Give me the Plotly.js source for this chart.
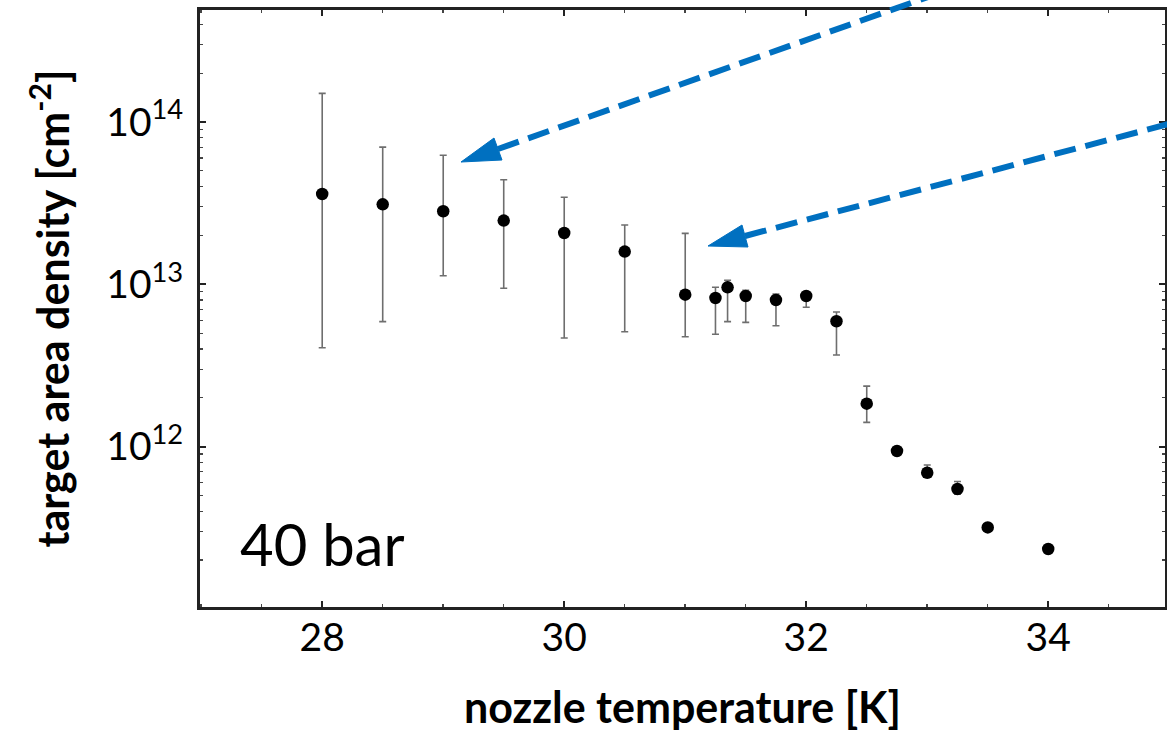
<!DOCTYPE html>
<html>
<head>
<meta charset="utf-8">
<script src="https://cdn.plot.ly/plotly-3.0.1.min.js"></script>
<style>
html,body{margin:0;padding:0;background:#fff;}
#chart{width:1167px;height:732px;}
</style>
</head>
<body>
<div id="chart"></div>
<script>
// nozzle temperature [K]
const temps = [28, 28.5, 29, 29.5, 30, 30.5, 31, 31.25, 31.35, 31.5, 31.75, 32, 32.25, 32.5, 32.75, 33, 33.25, 33.5, 34];
// target area density [cm^-2]
const density = [3.6e13, 3.11e13, 2.82e13, 2.47e13, 2.07e13, 1.59e13, 8.63e12, 8.24e12, 9.58e12, 8.47e12, 8.0e12, 8.47e12, 5.92e12, 1.84e12, 9.4e11, 6.9e11, 5.48e11, 3.18e11, 2.34e11];
// upper and lower ends of error bars
const upperBound = [1.50e14, 7.0e13, 6.24e13, 4.41e13, 3.44e13, 2.32e13, 2.06e13, 9.6e12, 1.06e13, 9.2e12, 8.7e12, 9.0e12, 6.75e12, 2.36e12, 9.4e11, 7.7e11, 6.1e11, 3.18e11, 2.34e11];
const lowerBound = [4.07e12, 5.89e12, 1.13e13, 9.45e12, 4.67e12, 5.1e12, 4.75e12, 4.92e12, 5.89e12, 5.83e12, 5.56e12, 7.22e12, 3.67e12, 1.41e12, 9.4e11, 6.5e11, 5.1e11, 3.18e11, 2.34e11];
const xTickVals = [28, 30, 32, 34];
const yTickVals = [1e12, 1e13, 1e14];
const yTickText = ['10<sup>12</sup>', '10<sup>13</sup>', '10<sup>14</sup>'];
const labelText = "40 bar";

const errPlus = density.map((v, i) => upperBound[i] - v);
const errMinus = density.map((v, i) => v - lowerBound[i]);

const FONT = "Lato, 'Liberation Sans', sans-serif";
const W = 1167, H = 732;
const M = {l: 200, r: 2, t: 10, b: 125};
const PW = W - M.l - M.r, PH = H - M.t - M.b;
// convert page pixels to paper fractions for decorative arrows
const px = x => (x - M.l) / PW;
const py = y => (H - M.b - y) / PH;

function arrow(tip, b1, b2, tail) {
  const bm = [(b1[0] + b2[0]) / 2, (b1[1] + b2[1]) / 2];
  return [
    {type: 'line', xref: 'paper', yref: 'paper',
     x0: px(bm[0]), y0: py(bm[1]), x1: px(tail[0]), y1: py(tail[1]),
     line: {color: '#0070C0', width: 6, dash: '22px,10px'}},
    {type: 'path', xref: 'paper', yref: 'paper',
     path: `M${px(tip[0])},${py(tip[1])} L${px(b1[0])},${py(b1[1])} L${px(b2[0])},${py(b2[1])} Z`,
     fillcolor: '#0070C0', line: {color: '#0070C0', width: 1}}
  ];
}

const trace = {
  x: temps, y: density, type: 'scatter', mode: 'markers',
  marker: {color: '#000', size: 12.5},
  error_y: {type: 'data', symmetric: false, array: errPlus, arrayminus: errMinus,
            color: '#6e6e6e', thickness: 1.6, width: 3.5},
  showlegend: false, cliponaxis: false
};

const layout = {
  width: W, height: H, margin: M,
  paper_bgcolor: '#fff', plot_bgcolor: '#fff',
  font: {family: FONT, color: '#000'},
  xaxis: {
    range: [26.99, 34.965], tickvals: xTickVals, ticktext: xTickVals.map(String),
    ticks: 'inside', ticklen: 6, tickwidth: 2, tickcolor: '#222',
    minor: {dtick: 0.5, ticks: 'inside', ticklen: 3, tickwidth: 1.5, tickcolor: '#444'},
    showline: true, linewidth: 3, linecolor: '#222', mirror: 'ticks',
    showgrid: false, zeroline: false,
    tickfont: {family: FONT, size: 39, color: '#000'},
    ticklabelstandoff: -6,
    title: {text: '<b>nozzle temperature [K]</b>', font: {family: FONT, size: 43, color: '#000'}, standoff: 36}
  },
  yaxis: {
    type: 'log', range: [11.012, 14.69], tickvals: yTickVals, ticktext: yTickText,
    ticks: 'inside', ticklen: 6, tickwidth: 2, tickcolor: '#222',
    minor: {dtick: 'D1', ticks: 'inside', ticklen: 3, tickwidth: 1.2, tickcolor: '#444'},
    showline: true, linewidth: 3, linecolor: '#222', mirror: 'ticks',
    showgrid: false, zeroline: false,
    tickfont: {family: FONT, size: 39, color: '#000'},
    ticklabelstandoff: 6,
    title: {text: '<b>target area density [cm<sup>-2</sup>]</b>', font: {family: FONT, size: 43, color: '#000'}, standoff: 24}
  },
  annotations: [
    {xref: 'paper', yref: 'paper', x: px(238), y: py(543), xanchor: 'left', yanchor: 'middle',
     text: labelText, showarrow: false, font: {family: FONT, size: 58, color: '#000'}}
  ],
  shapes: [
    ...arrow([461, 162], [494, 138], [502, 160], [945, -9]),
    ...arrow([708, 246], [742, 225], [748, 247], [1180, 121])
  ]
};

Plotly.newPlot('chart', [trace], layout, {displayModeBar: false, staticPlot: true});
</script>
</body>
</html>
